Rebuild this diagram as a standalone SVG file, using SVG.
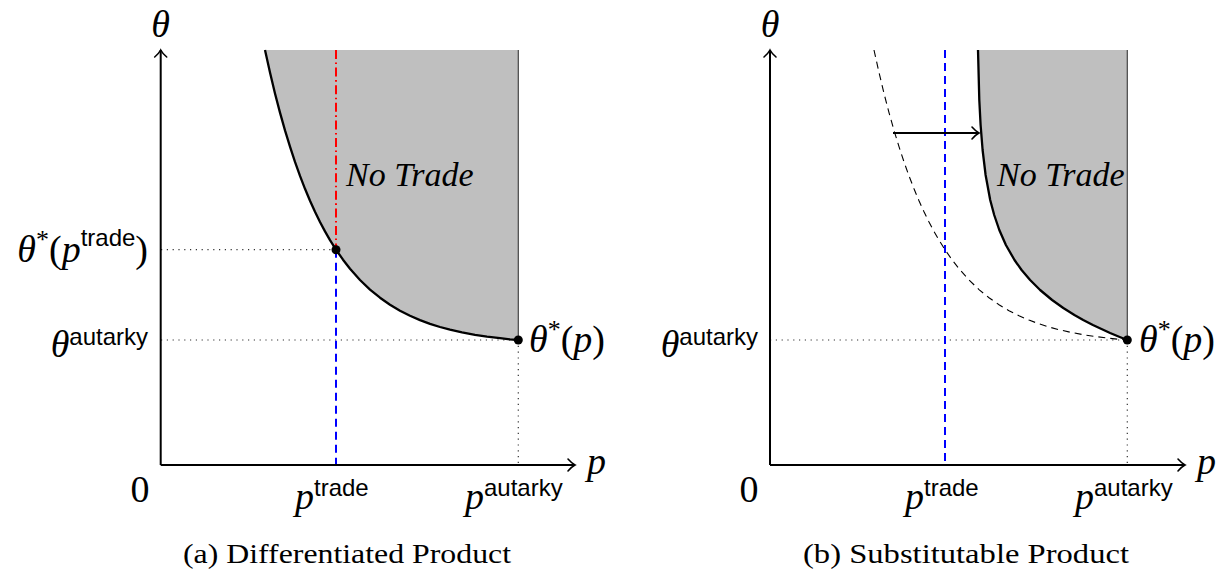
<svg xmlns="http://www.w3.org/2000/svg" width="1218" height="571" viewBox="0 0 1218 571">
<style>
.m{font-family:"Liberation Serif",serif;font-size:38px;fill:#000}
.it{font-style:italic}
.sf{font-family:"Liberation Sans",sans-serif;font-size:24px}
.st{font-size:26px}
.cap{font-family:"Liberation Serif",serif;font-size:27px;fill:#000}
.nt{font-family:"Liberation Serif",serif;font-style:italic;font-size:34px;fill:#000}
.axis{stroke:#000;stroke-width:2;fill:none}
.dot{stroke:#333;stroke-width:1.2;stroke-dasharray:1.2 4.6;fill:none}
.curve{stroke:#000;stroke-width:2.3;fill:none;stroke-linejoin:round}
.shade{fill:#bfbfbf;stroke:none}
.edge{stroke:#444;stroke-width:1.2}
.blue{stroke:#0000ff;stroke-width:2;stroke-dasharray:8 5;fill:none}
.red{stroke:#ff0000;stroke-width:2;stroke-dasharray:9 3.5 1.6 3.5;fill:none}
.dash{stroke:#000;stroke-width:1.1;stroke-dasharray:7 5;fill:none}
</style>
<defs>
<marker id="arr" viewBox="-10 -8 12 16" refX="0" refY="0" markerWidth="12" markerHeight="16" markerUnits="userSpaceOnUse" orient="auto">
<path d="M -7 -6 Q -3 -1.5 0 0 Q -3 1.5 -7 6" fill="none" stroke="#000" stroke-width="1.6" stroke-linecap="round"/>
</marker>
</defs>

<!-- Panel (a) -->
<g id="panel-a-region">
<path class="shade" d="M265,50 L270,72.5 L275,93.4 L280,112.6 L285,130.4 L290,146.7 L295,161.9 L300,175.9 L305,188.8 L310,200.8 L315,211.8 L320,222 L325,231.4 L330,240.1 L336,249.7 L343,259.7 L350,268.7 L360,280 L370,289.6 L380,297.7 L390,304.7 L400,310.7 L410,315.8 L420,320.1 L430,323.8 L440,327 L450,329.7 L462,332.4 L475,334.8 L487,336.6 L500,338.2 L510,339.3 L518.3,340 L518.3,50 Z"/>
<line class="edge" x1="518.3" y1="50" x2="518.3" y2="340"/>
</g>
<g id="connectors-a">
<line class="dot" x1="161" y1="249.7" x2="336" y2="249.7"/>
<line class="dot" x1="161" y1="340" x2="518.3" y2="340"/>
<line class="dot" x1="518.3" y1="340" x2="518.3" y2="465"/>
<line class="red" x1="336" y1="50" x2="336" y2="249.7"/>
<line class="blue" x1="336" y1="249.7" x2="336" y2="465"/>
<path class="curve" d="M265,50 L270,72.5 L275,93.4 L280,112.6 L285,130.4 L290,146.7 L295,161.9 L300,175.9 L305,188.8 L310,200.8 L315,211.8 L320,222 L325,231.4 L330,240.1 L336,249.7 L343,259.7 L350,268.7 L360,280 L370,289.6 L380,297.7 L390,304.7 L400,310.7 L410,315.8 L420,320.1 L430,323.8 L440,327 L450,329.7 L462,332.4 L475,334.8 L487,336.6 L500,338.2 L510,339.3 L518.3,340"/>
<path class="axis" d="M160.7,465 L160.7,50" marker-end="url(#arr)"/>
<path class="axis" d="M160.7,465 L575,465" marker-end="url(#arr)"/>
</g>
<g id="points-a">
<circle cx="336" cy="249.7" r="4.5"/>
<circle cx="518.3" cy="340" r="4.5"/>
</g>
<g id="labels-a">
<text class="m it" x="160.7" y="37" text-anchor="middle">θ</text>
<text class="m it" x="587" y="474">p</text>
<text class="m" x="140" y="502" text-anchor="middle">0</text>
<text class="nt" x="346" y="186">No Trade</text>
<text class="m" x="148" y="262" text-anchor="end"><tspan class="it">θ</tspan><tspan class="st" dy="-14">*</tspan><tspan dy="14">(</tspan><tspan class="it">p</tspan><tspan class="sf" dy="-16">trade</tspan><tspan dy="16">)</tspan></text>
<text class="m" x="148" y="357" text-anchor="end"><tspan class="it">θ</tspan><tspan class="sf" dy="-12">autarky</tspan></text>
<text class="m" x="529" y="352"><tspan class="it">θ</tspan><tspan class="st" dy="-14">*</tspan><tspan dy="14">(</tspan><tspan class="it">p</tspan>)</text>
<text class="m" x="295" y="509"><tspan class="it">p</tspan><tspan class="sf" dy="-13">trade</tspan></text>
<text class="m" x="465" y="509"><tspan class="it">p</tspan><tspan class="sf" dy="-13">autarky</tspan></text>
<text class="cap" x="347" y="563" text-anchor="middle" textLength="328" lengthAdjust="spacingAndGlyphs">(a) Differentiated Product</text>
</g>

<!-- Panel (b) -->
<g id="panel-b-region">
<path class="shade" d="M978,50 L979.3,100 L980.6,125 L982.6,150 L985.6,175 L990.2,200 L994.2,215 L999.3,230 L1005.9,245 L1014.5,260 L1021.6,270 L1030.1,280 L1040.1,290 L1052.1,300 L1063.3,308 L1074.4,315 L1083.2,320 L1092.9,325 L1110.1,333 L1119.7,337 L1127.3,340 L1127.3,50 Z"/>
<line class="edge" x1="1127.3" y1="50" x2="1127.3" y2="340"/>
</g>
<g id="connectors-b">
<line class="dot" x1="770" y1="340" x2="1127.3" y2="340"/>
<line class="dot" x1="1127.3" y1="340" x2="1127.3" y2="465"/>
<path class="dash" d="M874,50 L879,72.5 L884,93.4 L889,112.6 L894,130.4 L899,146.7 L904,161.9 L909,175.9 L914,188.8 L919,200.8 L924,211.8 L929,222 L934,231.4 L939,240.1 L945,249.7 L952,259.7 L959,268.7 L969,280 L979,289.6 L989,297.7 L999,304.7 L1009,310.7 L1019,315.8 L1029,320.1 L1039,323.8 L1049,327 L1059,329.7 L1071,332.4 L1084,334.8 L1096,336.6 L1109,338.2 L1119,339.3 L1127.3,340"/>
<line class="blue" x1="945" y1="50" x2="945" y2="465"/>
<path class="curve" d="M978,50 L979.3,100 L980.6,125 L982.6,150 L985.6,175 L990.2,200 L994.2,215 L999.3,230 L1005.9,245 L1014.5,260 L1021.6,270 L1030.1,280 L1040.1,290 L1052.1,300 L1063.3,308 L1074.4,315 L1083.2,320 L1092.9,325 L1110.1,333 L1119.7,337 L1127.3,340"/>
<path class="axis" d="M893,133 L979,133" marker-end="url(#arr)"/>
<path class="axis" d="M770,465 L770,50" marker-end="url(#arr)"/>
<path class="axis" d="M770,465 L1185,465" marker-end="url(#arr)"/>
</g>
<g id="points-b">
<circle cx="1127.3" cy="340" r="4.5"/>
</g>
<g id="labels-b">
<text class="m it" x="770" y="37" text-anchor="middle">θ</text>
<text class="m it" x="1197" y="474">p</text>
<text class="m" x="749" y="502" text-anchor="middle">0</text>
<text class="nt" x="997" y="186">No Trade</text>
<text class="m" x="758" y="357" text-anchor="end"><tspan class="it">θ</tspan><tspan class="sf" dy="-12">autarky</tspan></text>
<text class="m" x="1139" y="352"><tspan class="it">θ</tspan><tspan class="st" dy="-14">*</tspan><tspan dy="14">(</tspan><tspan class="it">p</tspan>)</text>
<text class="m" x="905" y="509"><tspan class="it">p</tspan><tspan class="sf" dy="-13">trade</tspan></text>
<text class="m" x="1075" y="509"><tspan class="it">p</tspan><tspan class="sf" dy="-13">autarky</tspan></text>
<text class="cap" x="966" y="563" text-anchor="middle" textLength="326" lengthAdjust="spacingAndGlyphs">(b) Substitutable Product</text>
</g>
</svg>
